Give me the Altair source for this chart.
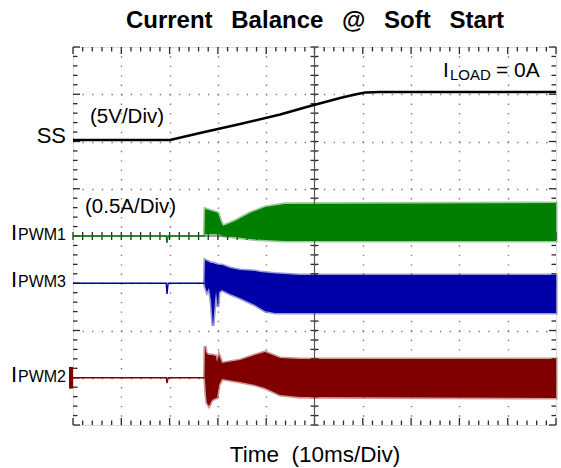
import altair as alt
import pandas as pd

# ---------------- trace data ----------------
# time axis: 10 ms/div, 10 divisions
# SS (soft-start) voltage, 5 V/div, offset +2 div
ss_t = [0, 20.1, 26.3, 34.6, 42.9, 49.1, 55.3, 58.4, 60.5, 63.6, 100]
ss_v = [0.16, 0.16, 0.90, 1.85, 2.86, 3.76, 4.60, 4.97, 5.19, 5.24, 5.24]

# phase currents, 0.5 A/div; quiet part before switching starts
pre_t = [0, 19.3, 19.46, 19.7, 27.23]
pwm1_pre = [0, 0, -0.074, 0, 0]
pwm3_pre = [0, 0, -0.114, 0, 0]
pwm2_pre = [0, 0, -0.056, 0, 0]

# switching envelopes (upper / lower edge of the ripple band), A
pwm1_t = [27.23, 27.33, 28.78, 30.02, 30.64, 31.06, 33.54, 36.65, 39.75, 43.89, 100]
pwm1_hi = [0, 0.286, 0.265, 0.243, 0.148, 0.106, 0.159, 0.243, 0.307, 0.339, 0.349]
pwm1_lo = [0, 0.021, 0.021, 0.021, 0.011, 0.0, -0.011, -0.032, -0.042, -0.053, -0.053]

pwm3_t = [27.23, 27.33, 27.74, 28.16, 28.57, 28.99, 29.40, 29.61, 30.02, 30.23,
          30.85, 32.51, 34.58, 37.68, 38.72, 39.75, 41.82, 47.0, 100]
pwm3_hi = [0, 0.246, 0.235, 0.225, 0.214, 0.214, 0.204, 0.204, 0.193, 0.193,
           0.193, 0.161, 0.140, 0.130, 0.119, 0.114, 0.103, 0.087, 0.087]
pwm3_lo = [0, -0.029, -0.093, -0.050, -0.177, -0.452, -0.177, -0.093, -0.251, -0.093,
           -0.071, -0.114, -0.156, -0.230, -0.262, -0.294, -0.315, -0.315, -0.315]

pwm2_t = [27.23, 27.33, 27.54, 27.74, 28.16, 28.78, 29.61, 29.81, 30.23, 30.85,
          34.58, 37.68, 39.75, 42.86, 47.0, 100]
pwm2_hi = [0, 0.336, 0.272, 0.251, 0.241, 0.241, 0.230, 0.167, 0.241, 0.156,
           0.188, 0.241, 0.272, 0.209, 0.198, 0.198]
pwm2_lo = [0, -0.024, -0.183, -0.267, -0.299, -0.235, -0.214, -0.214, -0.077, -0.013,
           -0.045, -0.077, -0.109, -0.183, -0.204, -0.214]

# channel setup: (offset in div, colour)
SS_SCALE, SS_OFF = 5.0, 2.0
I_SCALE = 0.5
CHANNELS = {
    "PWM1": (0.0, "#008000"),
    "PWM3": (-1.0, "#0000a8"),
    "PWM2": (-3.0, "#800000"),
}

# screen geometry
W, H = 483, 378
PX_MS = W / 100.0
PX_DIV = H / 8.0
FONT = "Liberation Sans"
NB = "\u00a0"

x_enc = alt.X("t:Q", scale=alt.Scale(domain=[0, 100], nice=False, zero=False),
              axis=alt.Axis(values=list(range(10, 100, 10)), grid=True, labels=False,
                            ticks=False, domain=False, title=None,
                            gridColor="#7a7a7a", gridWidth=1.4,
                            gridDash=[1.4, H / 40 - 1.4], gridDashOffset=0.7))
y_enc = alt.Y("y:Q", scale=alt.Scale(domain=[-4, 4], nice=False, zero=False),
              axis=alt.Axis(values=[-3, -2, -1, 0, 1, 2, 3], grid=True, labels=False,
                            ticks=False, domain=False, title=None,
                            gridColor="#7a7a7a", gridWidth=1.4,
                            gridDash=[1.4, W / 50 - 1.4], gridDashOffset=0.7))

# ---------------- graticule ticks ----------------
rows = []
for i in range(51):
    t = 2 * i
    L = (7 if i % 5 == 0 else 4.5) / PX_DIV
    rows.append(dict(t=t, t2=t, y=-4, y2=-4 + L))
    rows.append(dict(t=t, t2=t, y=4, y2=4 - L))
    c = 4 / PX_DIV
    rows.append(dict(t=t, t2=t, y=-c, y2=c))
for j in range(41):
    yv = -4 + 0.2 * j
    L = (7 if j % 5 == 0 else 4.5) / PX_MS
    rows.append(dict(t=0, t2=L, y=yv, y2=yv))
    rows.append(dict(t=100, t2=100 - L, y=yv, y2=yv))
    c = 4 / PX_MS
    rows.append(dict(t=50 - c, t2=50 + c, y=yv, y2=yv))
ticks_df = pd.DataFrame(rows)

ticks = alt.Chart(ticks_df).mark_rule(color="#2a2a2a", strokeWidth=1.3).encode(
    x=x_enc, x2="t2:Q", y=y_enc, y2="y2:Q")

center_df = pd.DataFrame({"t": [50, 0], "t2": [50, 100], "y": [-4, 0], "y2": [4, 0]})
center = alt.Chart(center_df).mark_rule(color="#555555", strokeWidth=1.2).encode(
    x=x_enc, x2="t2:Q", y=y_enc, y2="y2:Q")

# ---------------- traces ----------------
ss_df = pd.DataFrame({"t": ss_t, "y": [v / SS_SCALE + SS_OFF for v in ss_v]})
ss_line = alt.Chart(ss_df).mark_line(color="black", strokeWidth=2.6).encode(x=x_enc, y=y_enc)

layers = [ticks, center, ss_line]
pre_vals = {"PWM1": pwm1_pre, "PWM3": pwm3_pre, "PWM2": pwm2_pre}
env_vals = {"PWM1": (pwm1_t, pwm1_hi, pwm1_lo),
            "PWM3": (pwm3_t, pwm3_hi, pwm3_lo),
            "PWM2": (pwm2_t, pwm2_hi, pwm2_lo)}
for name, (off, col) in CHANNELS.items():
    pre_df = pd.DataFrame({"t": pre_t, "y": [v / I_SCALE + off for v in pre_vals[name]]})
    layers.append(alt.Chart(pre_df).mark_line(color=col, strokeWidth=1.4).encode(x=x_enc, y=y_enc))
    et, eh, el = env_vals[name]
    env_df = pd.DataFrame({"t": et,
                           "y": [v / I_SCALE + off for v in eh],
                           "y2": [v / I_SCALE + off for v in el]})
    layers.append(alt.Chart(env_df).mark_area(
        color=col, stroke=col, strokeWidth=3.2, strokeOpacity=0.4, opacity=1
    ).encode(x=x_enc, y=y_enc, y2="y2:Q"))

# channel-2 ground marker on the left edge
marker_df = pd.DataFrame({"y": [CHANNELS["PWM2"][0] + 0.23], "y2": [CHANNELS["PWM2"][0] - 0.23]})
layers.append(alt.Chart(marker_df).mark_rect(color="#800000").encode(
    x=alt.value(-4), x2=alt.value(0), y=y_enc, y2="y2:Q"))

# ---------------- text ----------------
def label(text, x, y, size, align="left", weight="normal", baseline="alphabetic"):
    return alt.Chart(pd.DataFrame({"s": [text]})).mark_text(
        align=align, baseline=baseline, font=FONT, fontSize=size, fontWeight=weight,
        color="black").encode(x=alt.value(x), y=alt.value(y), text="s:N")

title_gap = "\u2002" + NB
gap2 = NB * 2
layers += [
    label(title_gap.join(["Current", "Balance", "@", "Soft", "Start"]), 242, -19, 24,
          align="center", weight="bold"),
    label(gap2.join(["Time", "(10ms/Div)"]), 242, 415, 22.5, align="center"),
    label("SS", -7, 96, 22, align="right"),
    label("(5V/Div)", 17, 76, 20.5),
    label("(0.5A/Div)", 12, 166, 20.5),
    label("I", 370, 30, 21),
    label("LOAD", 377, 33, 15),
    label("= 0A", 423, 30, 21),
]
for name, (off, col) in CHANNELS.items():
    base = (4 - off) * PX_DIV
    layers.append(label("I", -62, base + 4, 22))
    layers.append(label(name, -55, base + 4, 16))

chart = alt.layer(*layers).properties(
    width=W, height=H,
    autosize=alt.AutoSizeParams(type="none"),
    padding={"left": 73, "top": 47, "right": 5, "bottom": 43},
).configure_view(stroke="#444444", strokeWidth=1.6).configure(background="white")

chart.save("out.html", embed_options={"renderer": "svg", "actions": False})
